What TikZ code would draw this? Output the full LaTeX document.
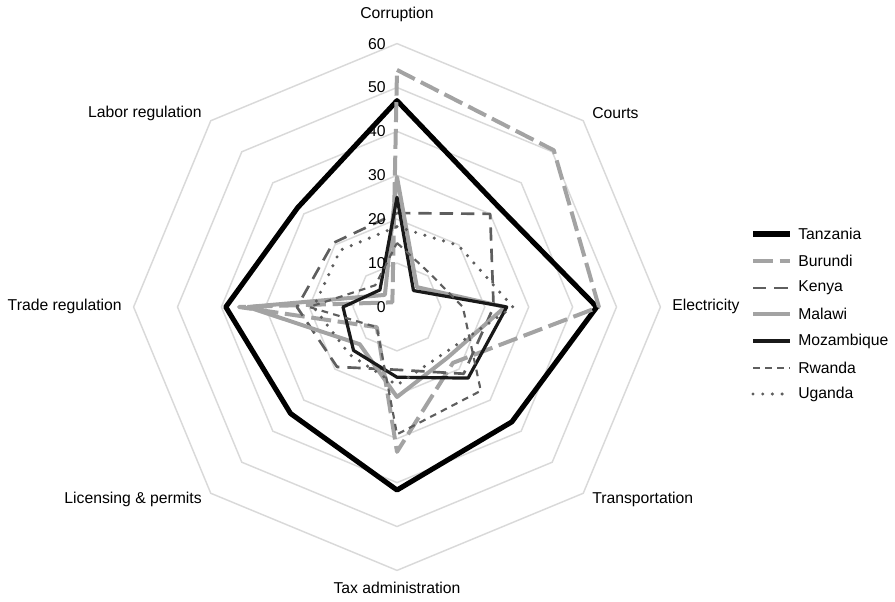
\documentclass[tikz,border=0pt]{standalone}
\usepackage{fontspec}
\setmainfont{Liberation Sans}
\definecolor{gridgray}{HTML}{D9D9D9}
\definecolor{lgray}{HTML}{A3A3A3}
\definecolor{dgray}{HTML}{5E5E5E}
\def\rsc{4.39}
\newcommand\radarpoly[8]{(90:{#1*\rsc}) -- (45:{#2*\rsc}) -- (0:{#3*\rsc}) -- (-45:{#4*\rsc}) -- (-90:{#5*\rsc}) -- (-135:{#6*\rsc}) -- (180:{#7*\rsc}) -- (135:{#8*\rsc}) -- cycle}
\begin{document}
\begin{tikzpicture}[x=0.75pt,y=0.75pt,
  grid/.style={draw=gridgray,line width=1.1pt},
  lbl/.style={font=\fontsize{11.8}{13.5}\selectfont,inner sep=0pt},
  ser/.style={line join=round},
  tanz/.style={ser,draw=black,line width=3.8pt},
  buru/.style={ser,draw=lgray,line width=3pt,dash pattern=on 15pt off 5pt},
  keny/.style={ser,draw=dgray,line width=2pt,dash pattern=on 10pt off 6pt},
  mala/.style={ser,draw=lgray,line width=3pt},
  moza/.style={ser,draw=black!90,line width=2.4pt},
  rwan/.style={ser,draw=dgray,line width=1.6pt,dash pattern=on 5pt off 4pt},
  ugan/.style={ser,draw=dgray,line width=2.6pt,dash pattern=on 0pt off 7.3pt,line cap=round},
]
\path[use as bounding box] (0,0) rectangle (895,-602);
\coordinate (c) at (397,-307);
\begin{scope}[shift={(c)}]
  \foreach \k in {1,...,6}
    \draw[grid] \radarpoly{\k*10}{\k*10}{\k*10}{\k*10}{\k*10}{\k*10}{\k*10}{\k*10};
  % series
  \draw[tanz] \radarpoly{47}{32.5}{45.5}{37}{41.7}{34.3}{39}{32};
  \draw[buru] \radarpoly{54}{50.5}{46}{18}{33}{6.5}{36}{1.5};
  \draw[keny] \radarpoly{21.4}{30}{22}{21.5}{14.3}{19.3}{22.8}{20.6};
  \draw[mala] \radarpoly{29.6}{6.4}{24.6}{16.3}{20.5}{12}{34}{3.9};
  \draw[moza] \radarpoly{25}{5.3}{25}{22.9}{16}{14}{12.3}{5.5};
  \draw[rwan] \radarpoly{14.6}{10.7}{15}{27}{29}{6.5}{20}{7};
  \draw[ugan] \radarpoly{18.3}{19.8}{26.4}{15}{17.8}{15.3}{19}{18.3};
  % tick labels
  \foreach \k in {0,...,6}
    \node[lbl,anchor=east] (t\k) at (-11,{\k*10*\rsc}) {\the\numexpr\k*10\relax};
\end{scope}
% axis labels
\node[lbl] (corr) at (397,-14) {Corruption};
\node[lbl,anchor=west] (cour) at (592,-113) {Courts};
\node[lbl,anchor=west] (elec) at (672,-306) {Electricity};
\node[lbl,anchor=west] (tran) at (592,-499) {Transportation};
\node[lbl] (tax) at (397,-588) {Tax administration};
\node[lbl,anchor=east] (lic) at (202,-499) {Licensing \& permits};
\node[lbl,anchor=east] (trad) at (122,-306) {Trade regulation};
\node[lbl,anchor=east] (lab) at (202,-113) {Labor regulation};
% legend
\foreach \st/\nm/\yy/\id in {tanz/Tanzania/234/a,buru/Burundi/261/b,keny/Kenya/288/c,mala/Malawi/314/d,moza/Mozambique/341/e,rwan/Rwanda/368/f,ugan/Uganda/394/g}{
  \coordinate (l\id1) at (753,-\yy);
  \coordinate (l\id2) at (790,-\yy);
  \draw[\st] (l\id1) -- (l\id2);
  \node[lbl,anchor=west] (n\id) at (798,-\yy) {\nm};
}
\end{tikzpicture}
\end{document}
